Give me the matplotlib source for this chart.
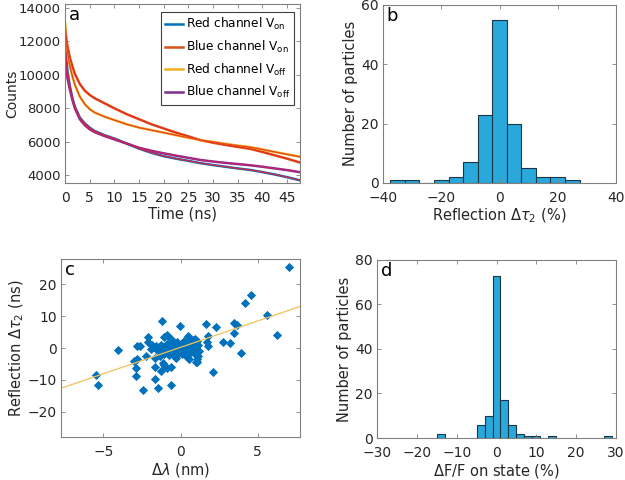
import numpy as np
import matplotlib
matplotlib.use("Agg")
import matplotlib.pyplot as plt

plt.rcParams['font.family'] = ['DejaVu Sans']
plt.rcParams['mathtext.fontset'] = 'dejavusans'

# panel a: decay curves (counts vs time)
t_ns = [0, 0.25, 0.5, 1, 1.5, 2, 3, 4, 5, 6, 8, 10, 12.5, 15, 17.5, 20,
        22.5, 25, 27.5, 30, 32.5, 35, 37.5, 40, 42.5, 45, 47.5]
red_on = [12000, 11000, 10200, 9300, 8600, 8100, 7450, 7100, 6850, 6650, 6400, 6200,
          5900, 5600, 5350, 5150, 5000, 4870, 4730, 4620, 4520, 4420, 4330, 4200,
          4060, 3900, 3720]
blue_on = [12900, 12200, 11700, 11000, 10500, 10050, 9450, 9050, 8800, 8600, 8300, 8000,
           7650, 7350, 7050, 6800, 6550, 6330, 6100, 5950, 5820, 5700, 5590, 5400,
           5200, 5000, 4780]
red_off = [13100, 12000, 11300, 10500, 9900, 9400, 8700, 8250, 7950, 7750, 7500, 7300,
           7050, 6850, 6700, 6550, 6400, 6250, 6100, 6000, 5880, 5780, 5690, 5550,
           5400, 5260, 5120]
blue_off = [10800, 10300, 9800, 9100, 8500, 8000, 7350, 7000, 6750, 6580, 6350, 6150,
            5900, 5650, 5470, 5320, 5180, 5050, 4920, 4830, 4750, 4680, 4610, 4520,
            4420, 4320, 4200]

# panel b: histogram of reflection delta tau2 (%)
b_centers = [-35, -30, -25, -20, -15, -10, -5, 0, 5, 10, 15, 20, 25]
b_counts = [1, 1, 0, 1, 2, 7, 23, 55, 20, 5, 2, 2, 1]

# panel c: scatter delta lambda vs reflection delta tau2
d_lambda = [7.05, 4.55, 4.16, 5.58, 6.23, 3.9, 3.5, 3.66, 3.45, 3.19, 2.76, 2.3, 2.13,
            1.79, 1.66, 1.72, 1.79, -0.05, -1.2, -1.08, -0.9, -0.62, -2.14, -2.1, -2.8,
            -2.6, -4.05, -3.02, -2.8, -2.89, -2.88, -5.45, -5.38, -2.42, -2.24, -1.68,
            -1.45, -1.66, -0.62, -1.25, -1.16, -0.86, -0.64, -1.64, 1.03, 1.12,
            -1.9, -1.75, -1.6, -1.5, -1.4, -1.3, -1.25, -1.15, -1.05, -1.0, -0.95, -0.85,
            -0.8, -0.75, -0.7, -0.6, -0.55, -0.5, -0.45, -0.4, -0.35, -0.3, -0.25, -0.2,
            -0.15, -0.1, 0.0, 0.05, 0.1, 0.15, 0.2, 0.25, 0.3, 0.35, 0.4, 0.45, 0.5, 0.55,
            0.6, 0.65, 0.7, 0.75, 0.8, 0.85, 0.9, 0.95, 1.0, 1.05, 1.1, 1.15, 1.2, 0.5,
            0.97, -1.3, -1.1, -0.3, 0.3, 1.05, -1.85, -1.2, 0.2, 0.7, -0.45, 0.9]
d_tau2 = [25.6, 16.6, 14.1, 10.4, 4.1, -1.6, 7.9, 7.3, 4.7, 1.6, 1.9, 6.6, -7.7,
          3.7, 7.5, 1.9, 0.6, 6.9, 8.5, 3.6, 4.0, 2.8, 3.5, 2.0, 0.5,
          0.7, -0.6, -4.1, -3.6, -6.2, -8.9, -8.4, -11.7, -13.2, -2.4, -9.8,
          -12.6, -6.0, -11.5, -7.3, -4.8, -6.3, -6.0, -3.2, -4.3, -2.6,
          -0.3, 0.2, 0.6, -0.5, 0.3, -1.2, 0.8, -0.4, -1.8, 0.5, -0.9, 1.2,
          -0.2, -2.3, 0.4, -1.0, 1.6, -0.3, -1.7, 0.8, -2.9, 0.2, 1.9, -0.8,
          -1.5, 0.6, -0.4, 1.2, -1.9, 0.3, 2.2, -0.9, 0.9, -2.6, 1.5, -0.2, 0.6, -3.4,
          1.9, 0.0, -1.2, 1.1, 2.6, -0.6, 1.6, -2.0, 0.4, 2.2, -3.6, 1.0, -0.9, 3.7,
          2.7, -2.5, -5.2, -3.0, -2.0, -4.5, 1.0, 0.1, -0.1, 0.3, 0.9, 1.3]
fit_slope = 1.66
fit_intercept = 0.2

# panel d: histogram of dF/F on state (%)
d_centers = [-14, -4, -2, 0, 2, 4, 6, 8, 10, 14, 28]
d_counts = [2, 6, 10, 73, 17, 6, 2, 1, 1, 1, 1]

bar_color = '#29A8DB'
bar_edge = '#1c3644'
spine_col = '#808080'
txt_col = '#262626'
lab_fs = 10.5

fig = plt.figure(figsize=(6.25, 4.8), dpi=100)
ax_a = fig.add_axes([0.104, 0.619, 0.376, 0.373])
ax_b = fig.add_axes([0.6128, 0.619, 0.3728, 0.371])
ax_c = fig.add_axes([0.0976, 0.0896, 0.3824, 0.3708])
ax_d = fig.add_axes([0.6032, 0.0875, 0.3824, 0.371])


def style(ax):
    for s in ax.spines.values():
        s.set_color(spine_col)
        s.set_linewidth(0.8)
    ax.tick_params(direction='in', top=True, right=True, length=3,
                   width=0.6, color=spine_col, labelsize=10, labelcolor=txt_col)
    ax.tick_params(axis='x', pad=6)
    ax.tick_params(axis='y', pad=3)


# a
t = np.array(t_ns)
ax_a.plot(t, red_on, color='#0072BD', lw=1.8, label='Red channel V$_{\\mathregular{on}}$')
ax_a.plot(t, blue_on, color='#D95319', lw=1.8, label='Blue channel V$_{\\mathregular{on}}$')
ax_a.plot(t, red_off, color='#EDB120', lw=1.8, label='Red channel V$_{\\mathregular{off}}$')
ax_a.plot(t, blue_off, color='#7E2F8E', lw=1.8, label='Blue channel V$_{\\mathregular{off}}$')
ax_a.plot(t, red_on, color='#D7263D', lw=0.9)
ax_a.plot(t, blue_off, color='#C8206E', lw=0.9)
ax_a.plot(t, blue_on, color='#E8301C', lw=0.9)
ax_a.plot(t, red_off, color='#E8451E', lw=0.9)
ax_a.set_xlim(0, 47.6)
ax_a.set_ylim(3560, 14220)
ax_a.set_xticks(range(0, 46, 5))
ax_a.set_yticks(range(4000, 14001, 2000))
ax_a.set_xlabel('Time (ns)', fontsize=lab_fs, color=txt_col, labelpad=1)
ax_a.set_ylabel('Counts', fontsize=10, color=txt_col)
ax_a.yaxis.set_label_coords(-0.196, 0.5)
leg = ax_a.legend(loc='upper right', bbox_to_anchor=(0.975, 0.955), fontsize=8.7,
                  handlelength=1.5, handletextpad=0.2, labelspacing=0.55,
                  borderpad=0.35, fancybox=False, framealpha=1, borderaxespad=0)
leg.get_frame().set_edgecolor('#404040')
leg.get_frame().set_linewidth(0.8)
style(ax_a)
ax_a.tick_params(axis='y', labelsize=9.5)

# b
ax_b.bar(b_centers, b_counts, width=5, color=bar_color, edgecolor=bar_edge, linewidth=0.8)
ax_b.set_xlim(-40, 40)
ax_b.set_ylim(0, 60)
ax_b.set_xticks([-40, -20, 0, 20, 40])
ax_b.set_yticks([0, 20, 40, 60])
ax_b.set_xlabel('Reflection $\\Delta\\tau_2$ (%)', fontsize=lab_fs, color=txt_col, labelpad=1)
ax_b.set_ylabel('Number of particles', fontsize=lab_fs, color=txt_col, labelpad=2)
style(ax_b)

# c
xl = np.array([-7.75, 7.75])
ax_c.plot(xl, fit_slope * xl + fit_intercept, color='#F2C15A', lw=0.9)
ax_c.scatter(d_lambda, d_tau2, marker='D', s=22, color='#0072BD', linewidths=0)
ax_c.set_xlim(-7.75, 7.75)
ax_c.set_ylim(-28, 28)
ax_c.set_xticks([-5, 0, 5])
ax_c.set_yticks([-20, -10, 0, 10, 20])
ax_c.set_xlabel('$\\Delta\\lambda$ (nm)', fontsize=lab_fs, color=txt_col, labelpad=1)
ax_c.set_ylabel('Reflection $\\Delta\\tau_2$ (ns)', fontsize=lab_fs, color=txt_col, labelpad=1)
style(ax_c)

# d
ax_d.bar(d_centers, d_counts, width=2, color=bar_color, edgecolor=bar_edge, linewidth=0.8)
ax_d.set_xlim(-30, 30)
ax_d.set_ylim(0, 80)
ax_d.set_xticks(range(-30, 31, 10))
ax_d.set_yticks(range(0, 81, 20))
ax_d.set_xlabel('$\\Delta$F/F on state (%)', fontsize=lab_fs, color=txt_col, labelpad=1)
ax_d.set_ylabel('Number of particles', fontsize=lab_fs, color=txt_col, labelpad=2)
style(ax_d)

for ax, lab in zip([ax_a, ax_b, ax_c, ax_d], ['a', 'b', 'c', 'd']):
    ax.text(0.015, 0.99, lab, transform=ax.transAxes, ha='left', va='top',
            fontsize=13, color='black')

fig.savefig('out.png', dpi=100)
